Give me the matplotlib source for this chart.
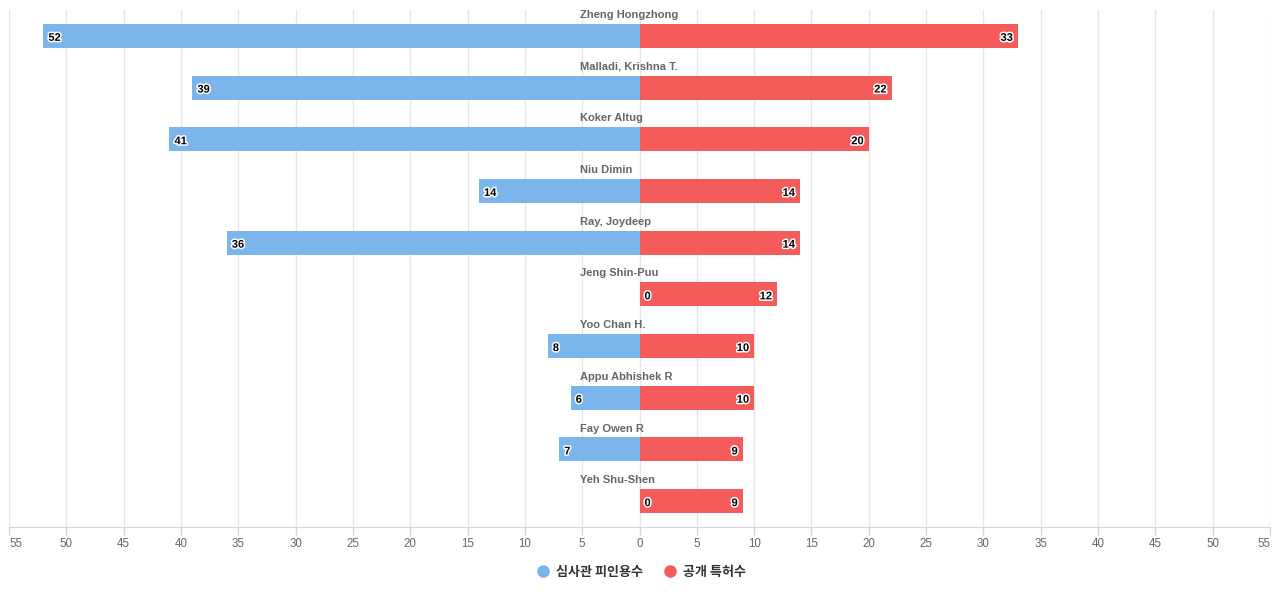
import numpy as np
import matplotlib.pyplot as plt
from matplotlib.lines import Line2D
import matplotlib.patheffects as pe

names = ["Zheng Hongzhong", "Malladi, Krishna T.", "Koker Altug", "Niu Dimin",
         "Ray, Joydeep", "Jeng Shin-Puu", "Yoo Chan H.", "Appu Abhishek R",
         "Fay Owen R", "Yeh Shu-Shen"]
examiner = [52, 39, 41, 14, 36, 0, 8, 6, 7, 0]
patents = [33, 22, 20, 14, 14, 12, 10, 10, 9, 9]
series_names = ["심사관 피인용수", "공개 특허수"]
ticks = list(range(-55, 56, 5))

blue = "#7cb5ec"
red = "#f45b5b"

plt.rcParams['font.family'] = ['Liberation Sans', 'Noto Sans CJK KR', 'DejaVu Sans']

fig = plt.figure(figsize=(12.8, 6), dpi=100)
ax = fig.add_axes([9 / 1280, 73 / 600, 1261 / 1280, 517 / 600])

n = len(names)
y = np.arange(n)
ax.barh(y, [-v for v in examiner], height=0.465, color=blue, zorder=3)
ax.barh(y, patents, height=0.465, color=red, zorder=3)

ax.set_xlim(-55, 55)
ax.set_ylim(n - 0.5, -0.5)

outline = [pe.withStroke(linewidth=2.2, foreground="white")]
for i in range(n):
    ax.annotate(names[i], (0, i - 0.5), xytext=(-59, 0), textcoords="offset pixels",
                ha="left", va="top", fontsize=8, fontweight="bold", color="#666666")
    ax.annotate(str(examiner[i]), (-examiner[i], i), xytext=(5, -2), textcoords="offset pixels",
                ha="left", va="center", fontsize=8, fontweight="bold", color="black",
                path_effects=outline, zorder=5)
    ax.annotate(str(patents[i]), (patents[i], i), xytext=(-5, -2), textcoords="offset pixels",
                ha="right", va="center", fontsize=8, fontweight="bold", color="black",
                path_effects=outline, zorder=5)

ax.set_xticks(ticks)
ax.set_xticklabels([str(abs(t)) for t in ticks])
labels = ax.get_xticklabels()
labels[0].set_ha("left")
labels[-1].set_ha("right")
ax.tick_params(axis="x", colors="#ccd6eb", labelcolor="#666666", labelsize=8.3,
               length=6, width=1, pad=2)
ax.set_yticks([])
ax.grid(axis="x", color="#e6e6e6", linewidth=1, zorder=0)
for s in ["top", "right", "left"]:
    ax.spines[s].set_visible(False)
ax.spines["bottom"].set_color("#ccd6eb")

handles = [Line2D([], [], marker="o", linestyle="", markersize=8, color=c) for c in (blue, red)]
leg = fig.legend(handles, series_names, loc="center", bbox_to_anchor=(0.501, 0.047),
                 ncol=2, frameon=False, handletextpad=0.5, columnspacing=1.5,
                 handlelength=1.0,
                 prop={"family": ["Noto Sans CJK KR"], "weight": "bold", "size": 9.4})
for t in leg.get_texts():
    t.set_color("#333333")

fig.savefig("out.png", dpi=100)
